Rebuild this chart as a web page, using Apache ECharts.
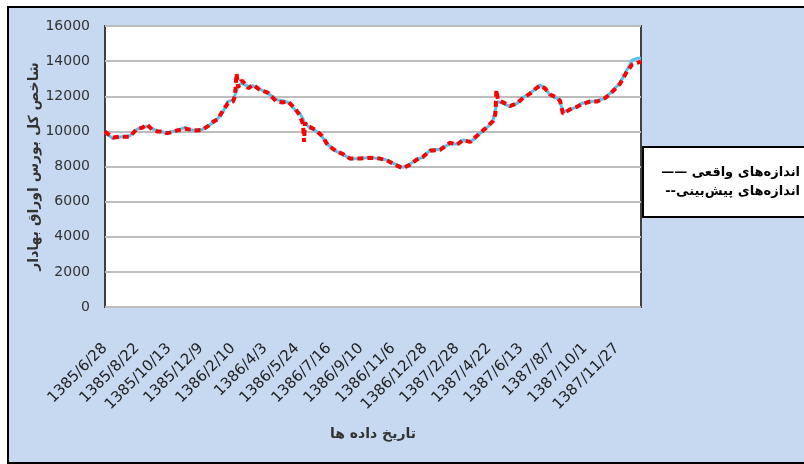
<!DOCTYPE html>
<html>
<head>
    <meta charset="utf-8">
    <title>شاخص کل بورس</title>
    <script src="https://cdn.jsdelivr.net/npm/echarts@6/dist/echarts.min.js"></script>
    <style type="text/css">
        html, body { margin: 0; padding: 0; background: #fff; }
        #main { width: 804px; height: 464px; }
    </style>
</head>
<body>
<div id="main"></div>
<script type="text/javascript">
    // tick labels of the date axis (one every label step)
    var xLabels = ['1385/6/28', '1385/8/22', '1385/10/13', '1385/12/9', '1386/2/10', '1386/4/3',
        '1386/5/24', '1386/7/16', '1386/9/10', '1386/11/6', '1386/12/28', '1387/2/28',
        '1387/4/22', '1387/6/13', '1387/8/7', '1387/10/1', '1387/11/27'];

    // position of each reading, in label steps from the first date
    var xPos = [0.00, 0.09, 0.25, 0.47, 0.78, 1.00, 1.16, 1.31, 1.47, 1.63, 1.78, 1.94, 2.09, 2.25,
        2.50, 2.66, 2.84, 3.03, 3.22, 3.38, 3.53, 3.69, 3.84, 4.00, 4.06, 4.11, 4.16, 4.27, 4.38,
        4.48, 4.63, 4.84, 5.09, 5.36, 5.56, 5.72, 5.94, 6.09, 6.19, 6.22, 6.25, 6.31, 6.41, 6.56,
        6.78, 6.97, 7.25, 7.44, 7.66, 7.97, 8.28, 8.59, 8.81, 9.06, 9.31, 9.53, 9.75, 9.94, 10.16,
        10.47, 10.78, 11.00, 11.19, 11.41, 11.56, 11.78, 11.97, 12.13, 12.20, 12.23, 12.28, 12.44,
        12.66, 12.88, 13.03, 13.28, 13.44, 13.59, 13.75, 13.91, 14.13, 14.22, 14.31, 14.53, 14.75,
        14.91, 15.16, 15.38, 15.63, 15.88, 16.09, 16.31, 16.47, 16.63, 16.75];

    // اندازه‌های واقعی
    var actual = [9950, 9800, 9600, 9680, 9750, 10120, 10250, 10300, 10150, 10040, 9980, 9890, 9980, 10040,
        10230, 10080, 10080, 10100, 10300, 10500, 10740, 11120, 11690, 11790, 11900, 12300, 12540, 12750, 12650,
        12560, 12600, 12400, 12170, 11800, 11750, 11650, 11220, 11030, 10700, 10550, 10450, 10360, 10170, 10080,
        9700, 9220, 8840, 8690, 8430, 8460, 8520, 8440, 8370, 8140, 7950, 8140, 8410, 8520, 8940,
        8980, 9300, 9280, 9510, 9410, 9600, 9980, 10270, 10650, 11220, 11500, 11690, 11600,
        11410, 11600, 11880, 12170, 12400, 12640, 12450, 12070, 11880, 11690, 11120, 11220, 11410,
        11600, 11690, 11750, 11880, 12360, 12740, 13500, 14060, 14160, 14160];

    // اندازه‌های پیش‌بینی
    var predicted = [10000, 9850, 9650, 9700, 9700, 10150, 10200, 10400, 10100, 10000, 10000, 9900, 9950, 10050,
        10150, 10100, 10050, 10080, 10300, 10550, 10700, 11200, 11600, 11700, 12000, 13300, 12500, 12900, 12700,
        12450, 12650, 12360, 12200, 11700, 11650, 11700, 11300, 10900, 10400, 9400, 10500, 10300, 10250, 10100,
        9750, 9200, 8850, 8700, 8450, 8450, 8500, 8450, 8350, 8100, 7900, 8100, 8400, 8550, 8900,
        8950, 9350, 9250, 9500, 9400, 9650, 10000, 10300, 10600, 11000, 12360, 11800, 11650,
        11450, 11600, 11850, 12150, 12400, 12600, 12450, 12100, 11900, 11750, 11000, 11250, 11400,
        11550, 11700, 11700, 11900, 12300, 12700, 13400, 13800, 13900, 13970];

    function pairs(ys) {
        return ys.map(function (v, i) { return [xPos[i], v]; });
    }

    var chart = echarts.init(document.getElementById('main'));
    chart.setOption({
        animation: false,
        backgroundColor: '#ffffff',
        graphic: [
            {   // chart area frame
                type: 'rect', z: -10, silent: true,
                shape: {x: 8, y: 7, width: 800, height: 456},
                style: {fill: '#c6d9f1', stroke: '#000', lineWidth: 2}
            },
            {   // legend box
                type: 'rect', z: 10, silent: true,
                shape: {x: 643, y: 147, width: 170, height: 70},
                style: {fill: '#fff', stroke: '#000', lineWidth: 2}
            },
            {
                type: 'text', z: 11, silent: true, x: 800, y: 173,
                style: {
                    text: '—— اندازه‌های واقعی', align: 'right', verticalAlign: 'middle',
                    font: 'bold 13px "DejaVu Sans"', fill: '#000'
                }
            },
            {
                type: 'text', z: 11, silent: true, x: 800, y: 192,
                style: {
                    text: '--اندازه‌های پیش‌بینی', align: 'right', verticalAlign: 'middle',
                    font: 'bold 13px "DejaVu Sans"', fill: '#000'
                }
            }
        ],
        grid: {
            left: 105, right: 163, top: 26, bottom: 157,
            show: true, backgroundColor: '#fff', borderColor: '#404040', borderWidth: 2
        },
        xAxis: {
            type: 'value', min: 0, max: 16.75, interval: 1,
            name: 'تاریخ داده ها', nameLocation: 'middle', nameGap: 120,
            nameTextStyle: {fontFamily: 'DejaVu Sans', fontWeight: 'bold', fontSize: 14, color: '#333'},
            axisLine: {show: false}, axisTick: {show: false}, splitLine: {show: false},
            axisLabel: {
                rotate: 45, margin: 39, fontFamily: 'DejaVu Sans', fontSize: 15, color: '#222',
                showMaxLabel: false,
                formatter: function (v) { return xLabels[Math.round(v)] || ''; }
            }
        },
        yAxis: {
            type: 'value', min: 0, max: 16000, interval: 2000,
            name: 'شاخص کل بورس اوراق بهادار', nameLocation: 'middle', nameRotate: 90, nameGap: 64,
            nameMoveOverlap: false,
            nameTextStyle: {fontFamily: 'DejaVu Sans', fontWeight: 'bold', fontSize: 14, color: '#333'},
            axisLine: {show: false}, axisTick: {show: false},
            splitLine: {lineStyle: {color: '#bdbdbd', width: 2}},
            axisLabel: {
                margin: 15, fontFamily: 'DejaVu Sans', fontSize: 14, color: '#333',
                formatter: function (v) { return String(v); }
            }
        },
        series: [
            {
                name: 'اندازه‌های واقعی', type: 'line', data: pairs(actual),
                showSymbol: false, z: 2,
                lineStyle: {color: '#55c3ef', width: 3}
            },
            {
                name: 'اندازه‌های پیش‌بینی', type: 'line', data: pairs(predicted),
                showSymbol: false, z: 3,
                lineStyle: {color: '#ff0000', width: 4, type: [6, 4]}
            }
        ]
    });
</script>
</body>
</html>
